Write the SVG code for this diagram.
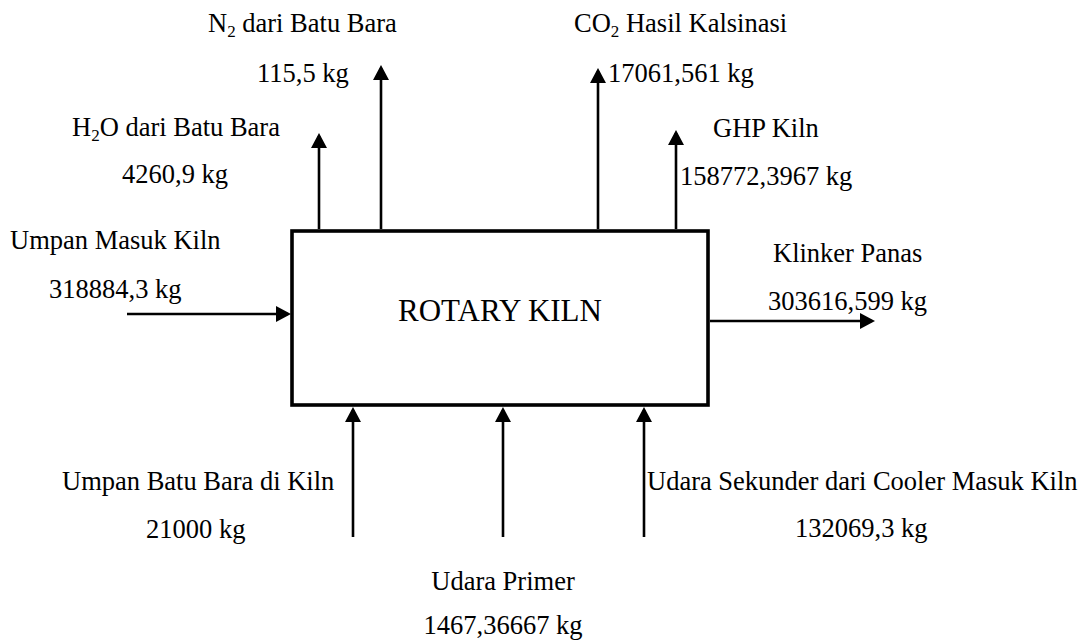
<svg xmlns="http://www.w3.org/2000/svg" width="1085" height="642" viewBox="0 0 1085 642">
<style>
.t{font-family:"Liberation Serif","Times New Roman",serif;font-size:26.5px;fill:#000}
.sub{font-size:17px}
.c{stroke:#000;stroke-width:2.6;fill:none}
</style>
<defs>
<marker id="ah" markerUnits="userSpaceOnUse" markerWidth="15" markerHeight="16" refX="12" refY="8" orient="auto" viewBox="0 0 15 16">
<path d="M0,0 L15,8 L0,16 z" fill="#000"/>
</marker>
</defs>
<rect width="1085" height="642" fill="#fff"/>
<g id="kiln">
<rect x="292" y="231" width="416" height="174" fill="#fff" stroke="#000" stroke-width="3.6"/>
<text class="t" x="500" y="321" text-anchor="middle" style="font-size:31px">ROTARY KILN</text>
</g>
<g id="connectors">
<line class="c" x1="319" y1="229" x2="319" y2="136" marker-end="url(#ah)"/>
<line class="c" x1="381" y1="229" x2="381" y2="68" marker-end="url(#ah)"/>
<line class="c" x1="598" y1="229" x2="598" y2="71" marker-end="url(#ah)"/>
<line class="c" x1="676" y1="229" x2="676" y2="133" marker-end="url(#ah)"/>
<line class="c" x1="127" y1="314" x2="288" y2="314" marker-end="url(#ah)"/>
<line class="c" x1="710" y1="321" x2="872" y2="321" marker-end="url(#ah)"/>
<line class="c" x1="353" y1="537" x2="353" y2="410" marker-end="url(#ah)"/>
<line class="c" x1="503" y1="537" x2="503" y2="410" marker-end="url(#ah)"/>
<line class="c" x1="644" y1="537" x2="644" y2="410" marker-end="url(#ah)"/>
</g>
<g id="n2-out">
<text class="t" x="208" y="32">N<tspan class="sub" dy="5">2</tspan><tspan dy="-5"> dari Batu Bara</tspan></text>
<text class="t" x="257" y="82">115,5 kg</text>
</g>
<g id="co2-out">
<text class="t" x="574" y="32">CO<tspan class="sub" dy="5">2</tspan><tspan dy="-5"> Hasil Kalsinasi</tspan></text>
<text class="t" x="608" y="82">17061,561 kg</text>
</g>
<g id="h2o-out">
<text class="t" x="72" y="136">H<tspan class="sub" dy="5">2</tspan><tspan dy="-5">O dari Batu Bara</tspan></text>
<text class="t" x="122" y="183">4260,9 kg</text>
</g>
<g id="ghp-out">
<text class="t" x="713" y="137">GHP Kiln</text>
<text class="t" x="680" y="185">158772,3967 kg</text>
</g>
<g id="feed-in">
<text class="t" x="10" y="249">Umpan Masuk Kiln</text>
<text class="t" x="49" y="298">318884,3 kg</text>
</g>
<g id="clinker-out">
<text class="t" x="773" y="262">Klinker Panas</text>
<text class="t" x="768" y="310">303616,599 kg</text>
</g>
<g id="coal-in">
<text class="t" x="62" y="490">Umpan Batu Bara di Kiln</text>
<text class="t" x="146" y="538">21000 kg</text>
</g>
<g id="primary-air-in">
<text class="t" x="503" y="590" text-anchor="middle">Udara Primer</text>
<text class="t" x="503" y="634" text-anchor="middle">1467,36667 kg</text>
</g>
<g id="secondary-air-in">
<text class="t" x="647" y="490">Udara Sekunder dari Cooler Masuk Kiln</text>
<text class="t" x="795" y="537">132069,3 kg</text>
</g>
</svg>
